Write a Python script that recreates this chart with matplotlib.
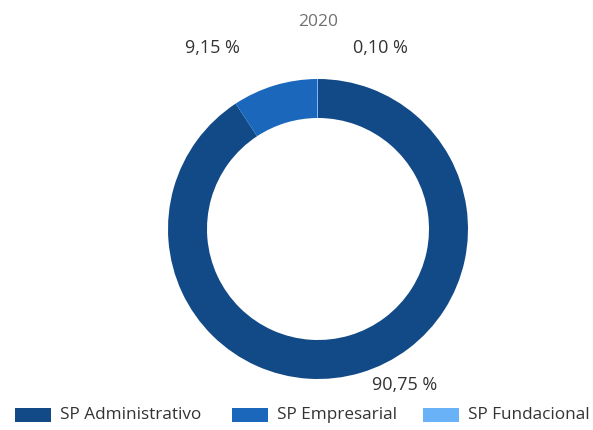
import matplotlib
matplotlib.use("Agg")
import matplotlib.pyplot as plt
from matplotlib.patches import Rectangle

plt.rcParams['font.family'] = ['Open Sans', 'DejaVu Sans']

title = "2020"
categories = ["SP Administrativo", "SP Empresarial", "SP Fundacional"]
values = [90.75, 9.15, 0.10]
labels = ["90,75 %", "9,15 %", "0,10 %"]
colors = ["#124a87", "#1a67bb", "#6ab2f7"]

W, H = 593, 430
fig = plt.figure(figsize=(W / 100, H / 100), dpi=100)
fig.patch.set_facecolor("white")

cx, cy, r = 318, 229, 150
ax = fig.add_axes([(cx - r) / W, (H - cy - r) / H, 2 * r / W, 2 * r / H])
ax.pie(values, colors=colors, startangle=90, counterclock=False,
       radius=1.0, wedgeprops=dict(width=0.26, edgecolor="none"))
ax.set_xlim(-1, 1)
ax.set_ylim(-1, 1)
ax.set_aspect("equal")
ax.axis("off")

fig.text(318 / W, 1 - 22 / H, title, ha="center", va="center", fontsize=12.5, color="#707070")

label_pos = [(405, 385), (212, 48), (380, 48)]
for lab, (x, y) in zip(labels, label_pos):
    fig.text(x / W, 1 - y / H, lab, ha="center", va="center", fontsize=13, color="#333333")

leg_x = [15, 232, 423]
for name, col, x in zip(categories, colors, leg_x):
    fig.patches.append(Rectangle((x / W, 1 - 422 / H), 36 / W, 14 / H,
                                 transform=fig.transFigure, facecolor=col, edgecolor="none"))
    fig.text((x + 45) / W, 1 - 415 / H, name, ha="left", va="center", fontsize=12.3, color="#333333")

fig.savefig("out.png", dpi=100)
